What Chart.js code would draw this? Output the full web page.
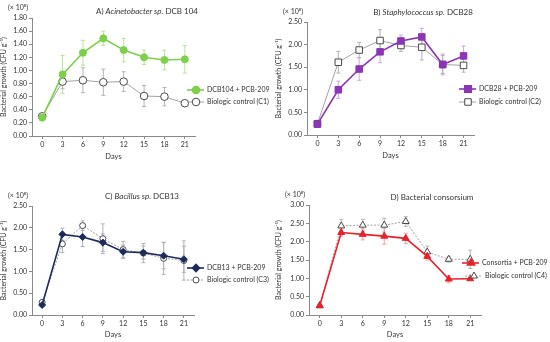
<!DOCTYPE html>
<html>
<head>
<meta charset="utf-8">
<script src="https://cdn.jsdelivr.net/npm/chart.js"></script>
<style>
  body { margin: 0; background: #fff; width: 550px; height: 342px; position: relative; overflow: hidden; }
  .panel { position: absolute; width: 275px; height: 171px; }
</style>
</head>
<body>
<div class="panel" style="left:0;top:0"><canvas id="chartA" width="275" height="171"></canvas></div>
<div class="panel" style="left:275px;top:0"><canvas id="chartB" width="275" height="171"></canvas></div>
<div class="panel" style="left:0;top:171px"><canvas id="chartC" width="275" height="171"></canvas></div>
<div class="panel" style="left:275px;top:171px"><canvas id="chartD" width="275" height="171"></canvas></div>
<script>
// sampling days (x axis)
const days = ["0", "3", "6", "9", "12", "15", "18", "21"];

// A) Acinetobacter sp. DCB 104
const dcb104 = [0.28, 0.94, 1.27, 1.49, 1.31, 1.20, 1.16, 1.17];
const dcb104Err = [0.02, 0.29, 0.19, 0.11, 0.18, 0.11, 0.15, 0.21];
const controlC1 = [0.30, 0.83, 0.85, 0.82, 0.83, 0.61, 0.60, 0.50];
const controlC1Err = [0.02, 0.11, 0.19, 0.20, 0.15, 0.16, 0.14, 0.02];

// B) Staphylococcus sp. DCB28
const dcb28 = [0.24, 1.00, 1.46, 1.84, 2.08, 2.17, 1.56, 1.75];
const dcb28Err = [0.02, 0.19, 0.25, 0.24, 0.13, 0.19, 0.23, 0.22];
const controlC2 = [0.25, 1.61, 1.88, 2.09, 1.98, 1.94, 1.56, 1.54];
const controlC2Err = [0.02, 0.24, 0.17, 0.24, 0.13, 0.28, 0.20, 0.15];

// C) Bacillus sp. DCB13
const dcb13 = [0.23, 1.85, 1.79, 1.66, 1.45, 1.43, 1.36, 1.28];
const dcb13Err = [0.02, 0.14, 0.22, 0.20, 0.15, 0.15, 0.30, 0.30];
const controlC3 = [0.29, 1.63, 2.05, 1.75, 1.50, 1.42, 1.30, 1.25];
const controlC3Err = [0.02, 0.20, 0.11, 0.34, 0.19, 0.22, 0.37, 0.45];

// D) Bacterial consorsium
const consortia = [0.26, 2.25, 2.20, 2.15, 2.09, 1.60, 0.98, 0.99];
const consortiaErr = [0.02, 0.10, 0.15, 0.22, 0.14, 0.10, 0.10, 0.03];
const controlC4 = [0.25, 2.43, 2.45, 2.45, 2.55, 1.72, 1.52, 1.52];
const controlC4Err = [0.02, 0.18, 0.16, 0.19, 0.13, 0.16, 0.08, 0.25];

const FONT = "Lato, 'Open Sans', sans-serif";
const AXIS = "#8a8a8a";

// whiskers drawn under the lines
const errorBars = {
  id: "errorBars",
  beforeDatasetsDraw(chart) {
    const ctx = chart.ctx;
    const yScale = chart.scales.y;
    chart.data.datasets.forEach((ds, i) => {
      const meta = chart.getDatasetMeta(i);
      ctx.save();
      ctx.strokeStyle = ds.errorColor;
      ctx.lineWidth = 1;
      meta.data.forEach((pt, j) => {
        const e = ds.errors[j];
        const top = yScale.getPixelForValue(ds.data[j] + e);
        const bot = yScale.getPixelForValue(ds.data[j] - e);
        ctx.beginPath();
        ctx.moveTo(pt.x, top); ctx.lineTo(pt.x, bot);
        ctx.moveTo(pt.x - 2, top); ctx.lineTo(pt.x + 2, top);
        ctx.moveTo(pt.x - 2, bot); ctx.lineTo(pt.x + 2, bot);
        ctx.stroke();
      });
      ctx.restore();
    });
  }
};

// title with italic part, exponent note and line legend
const panelDecor = {
  id: "panelDecor",
  afterDraw(chart, args, opts) {
    const ctx = chart.ctx;
    const area = chart.chartArea;
    ctx.save();
    ctx.textBaseline = "middle";
    ctx.fillStyle = "#333";

    // title
    let total = 0;
    opts.title.forEach(seg => {
      ctx.font = (seg.italic ? "italic " : "") + "8px " + FONT;
      total += ctx.measureText(seg.text).width;
    });
    let x = opts.titleX - total / 2;
    ctx.textAlign = "left";
    opts.title.forEach(seg => {
      ctx.font = (seg.italic ? "italic " : "") + "8px " + FONT;
      ctx.fillText(seg.text, x, opts.titleY);
      x += ctx.measureText(seg.text).width;
    });

    // exponent note
    ctx.font = "7px " + FONT;
    ctx.textAlign = "right";
    ctx.fillText("(× 10⁸)", area.left - 4, area.top - 10);

    // legend
    ctx.textAlign = "left";
    ctx.font = "7px " + FONT;
    chart.data.datasets.forEach((ds, i) => {
      const L = opts.legend[i];
      ctx.strokeStyle = ds.borderColor;
      ctx.lineWidth = ds.borderWidth;
      ctx.setLineDash(ds.borderDash || []);
      ctx.beginPath();
      ctx.moveTo(L.x - 9, L.y);
      ctx.lineTo(L.x + 8, L.y);
      ctx.stroke();
      ctx.setLineDash([]);
      ctx.fillStyle = ds.pointBackgroundColor;
      ctx.strokeStyle = ds.pointBorderColor;
      Chart.helpers.drawPoint(ctx, {
        pointStyle: ds.pointStyle, radius: ds.pointRadius, rotation: 0,
        borderWidth: ds.pointBorderWidth
      }, L.x, L.y);
      ctx.fillStyle = "#333";
      ctx.fillText(ds.label, L.x + 11, L.y);
    });
    ctx.restore();
  }
};

function buildChart(id, p) {
  return new Chart(document.getElementById(id), {
    type: "line",
    data: { labels: days, datasets: p.datasets },
    options: {
      responsive: false,
      animation: false,
      layout: { padding: { top: p.top, right: 275 - p.right, bottom: p.padBottom, left: 0 } },
      plugins: {
        legend: { display: false },
        tooltip: { enabled: false },
        panelDecor: { title: p.title, titleX: p.titleX, titleY: p.titleY, legend: p.legend }
      },
      scales: {
        x: {
          type: "category",
          offset: true,
          grid: { offset: false, drawOnChartArea: false, tickLength: 3, color: AXIS },
          border: { color: AXIS },
          ticks: { color: "#333", font: { size: 7, family: FONT }, padding: 2, maxRotation: 0 },
          title: { display: true, text: "Days", color: "#333", font: { size: 7.5, family: FONT }, padding: 0 },
          afterFit: s => { s.height = p.xHeight; }
        },
        y: {
          min: 0,
          max: p.yMax,
          grid: { drawOnChartArea: false, tickLength: 3, color: AXIS },
          border: { color: AXIS },
          ticks: {
            stepSize: p.yStep,
            color: "#333",
            font: { size: 7, family: FONT },
            padding: 2,
            callback: v => v.toFixed(2)
          },
          title: {
            display: true,
            text: "Bacterial growth (CFU g⁻¹)",
            color: "#333",
            font: { size: 7, family: FONT },
            padding: 0
          },
          afterFit: s => { s.width = p.left; }
        }
      }
    },
    plugins: [errorBars, panelDecor]
  });
}

function treated(label, data, errors, color, errColor, style, radius) {
  return {
    label: label, data: data, errors: errors, errorColor: errColor,
    borderColor: color, borderWidth: 1.6, tension: 0,
    pointStyle: style, pointRadius: radius, pointBackgroundColor: color,
    pointBorderColor: color, pointBorderWidth: 1
  };
}

function control(label, data, errors, style, radius, dash) {
  return {
    label: label, data: data, errors: errors, errorColor: "#b4b4b4",
    borderColor: "#a3a3a3", borderWidth: 1, borderDash: dash, tension: 0,
    pointStyle: style, pointRadius: radius, pointBackgroundColor: "#fff",
    pointBorderColor: "#4a4a4a", pointBorderWidth: 1
  };
}

buildChart("chartA", {
  left: 32, right: 195, top: 18, padBottom: 10, xHeight: 25, yMax: 1.8, yStep: 0.2,
  title: [{ text: "A) " }, { text: "Acinetobacter sp.", italic: true }, { text: " DCB 104" }],
  titleX: 147, titleY: 11,
  legend: [{ x: 196, y: 90 }, { x: 196, y: 102 }],
  datasets: [
    treated("DCB104 + PCB-209", dcb104, dcb104Err, "#7cd04a", "#b9e39c", "circle", 3.5),
    control("Biologic control (C1)", controlC1, controlC1Err, "circle", 3.8, [])
  ]
});

buildChart("chartB", {
  left: 32, right: 199, top: 22, padBottom: 11, xHeight: 25, yMax: 2.5, yStep: 0.5,
  title: [{ text: "B) " }, { text: "Staphylococcus sp.", italic: true }, { text: " DCB28" }],
  titleX: 148, titleY: 12,
  legend: [{ x: 193, y: 89 }, { x: 193, y: 102 }],
  datasets: [
    treated("DCB28 + PCB-209", dcb28, dcb28Err, "#8b35b6", "#cfa6df", "rect", 4.6),
    control("Biologic control (C2)", controlC2, controlC2Err, "rect", 4.6, [])
  ]
});

buildChart("chartC", {
  left: 32, right: 194, top: 35, padBottom: 3, xHeight: 24, yMax: 2.5, yStep: 0.5,
  title: [{ text: "C) " }, { text: "Bacillus sp.", italic: true }, { text: " DCB13" }],
  titleX: 142, titleY: 25,
  legend: [{ x: 196, y: 97 }, { x: 196, y: 109 }],
  datasets: [
    treated("DCB13 + PCB-209", dcb13, dcb13Err, "#1c2b5a", "#a7adbf", "rectRot", 3.5),
    control("Biologic control (C3)", controlC3, controlC3Err, "circle", 3, [2, 1.5])
  ]
});

buildChart("chartD", {
  left: 34, right: 206, top: 34, padBottom: 3, xHeight: 24, yMax: 3, yStep: 0.5,
  title: [{ text: "D) Bacterial consorsium" }],
  titleX: 157, titleY: 26,
  legend: [{ x: 196, y: 92 }, { x: 199, y: 105 }],
  datasets: [
    treated("Consortia + PCB-209", consortia, consortiaErr, "#e8212b", "#f2a3a6", "triangle", 4),
    control("Biologic control (C4)", controlC4, controlC4Err, "triangle", 4, [2, 1.5])
  ]
});
</script>
</body>
</html>
